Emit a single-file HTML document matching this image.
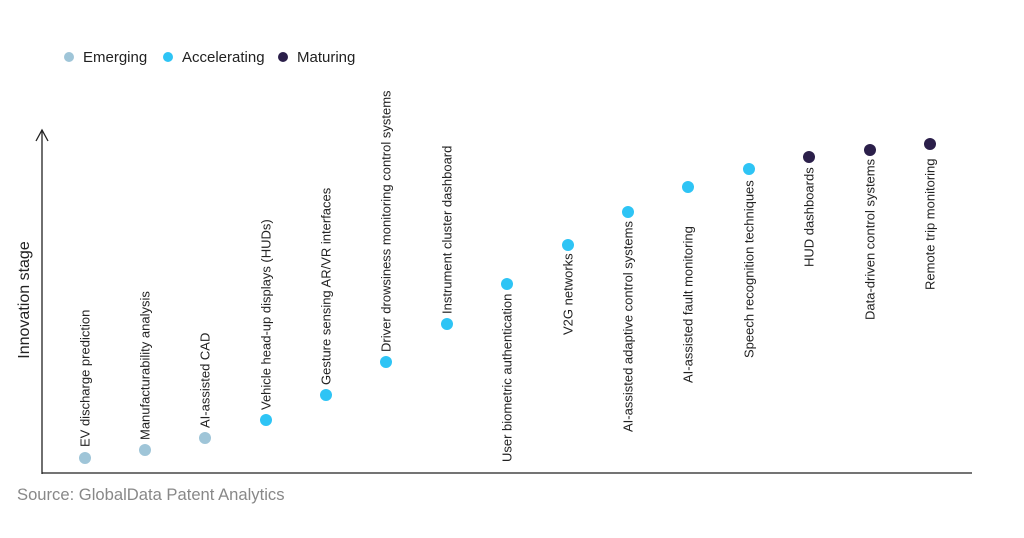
<!DOCTYPE html>
<html><head><meta charset="utf-8"><style>
body{margin:0;background:#fff;}
svg{display:block;font-family:"Liberation Sans",Arial,sans-serif;}
</style></head><body>
<svg width="1024" height="538" viewBox="0 0 1024 538">
<g font-size="15" fill="#222">
<circle cx="69" cy="57" r="5" fill="#9fc5d8"/><text x="83" y="62">Emerging</text>
<circle cx="168" cy="57" r="5" fill="#2ec4f5"/><text x="182" y="62">Accelerating</text>
<circle cx="283" cy="57" r="5" fill="#2b1f4a"/><text x="297" y="62">Maturing</text>
</g>
<line x1="42" y1="130" x2="42" y2="474" stroke="#222" stroke-width="1.3"/>
<polyline points="36,141 42,130 48,141" fill="none" stroke="#222" stroke-width="1.3"/>
<line x1="42" y1="473" x2="972" y2="473" stroke="#222" stroke-width="1.3"/>
<text transform="translate(29,300) rotate(-90)" text-anchor="middle" font-size="16" fill="#222">Innovation stage</text>
<text x="17" y="500" font-size="16.6" fill="#888">Source: GlobalData Patent Analytics</text>
<g font-size="13" fill="#222">
<circle cx="85" cy="458" r="6" fill="#9fc5d8"/><text transform="translate(89.5,447) rotate(-90)">EV discharge prediction</text>
<circle cx="145" cy="450" r="6" fill="#9fc5d8"/><text transform="translate(149.5,440) rotate(-90)">Manufacturability analysis</text>
<circle cx="205" cy="438" r="6" fill="#9fc5d8"/><text transform="translate(209.5,428) rotate(-90)">AI-assisted CAD</text>
<circle cx="266" cy="420" r="6" fill="#2ec4f5"/><text transform="translate(270.5,410) rotate(-90)">Vehicle head-up displays (HUDs)</text>
<circle cx="326" cy="395" r="6" fill="#2ec4f5"/><text transform="translate(330.5,385) rotate(-90)">Gesture sensing AR/VR interfaces</text>
<circle cx="386" cy="362" r="6" fill="#2ec4f5"/><text transform="translate(390.5,352) rotate(-90)">Driver drowsiness monitoring control systems</text>
<circle cx="447" cy="324" r="6" fill="#2ec4f5"/><text transform="translate(451.5,314) rotate(-90)">Instrument cluster dashboard</text>
<circle cx="507" cy="284" r="6" fill="#2ec4f5"/><text transform="translate(511.5,462) rotate(-90)">User biometric authentication</text>
<circle cx="568" cy="245" r="6" fill="#2ec4f5"/><text transform="translate(572.5,335) rotate(-90)">V2G networks</text>
<circle cx="628" cy="212" r="6" fill="#2ec4f5"/><text transform="translate(632.5,432) rotate(-90)">AI-assisted adaptive control systems</text>
<circle cx="688" cy="187" r="6" fill="#2ec4f5"/><text transform="translate(692.5,383) rotate(-90)">AI-assisted fault monitoring</text>
<circle cx="749" cy="169" r="6" fill="#2ec4f5"/><text transform="translate(753.5,358) rotate(-90)">Speech recognition techniques</text>
<circle cx="809" cy="157" r="6" fill="#2b1f4a"/><text transform="translate(813.5,267) rotate(-90)">HUD dashboards</text>
<circle cx="870" cy="150" r="6" fill="#2b1f4a"/><text transform="translate(874.5,320) rotate(-90)">Data-driven control systems</text>
<circle cx="930" cy="144" r="6" fill="#2b1f4a"/><text transform="translate(934.5,290) rotate(-90)">Remote trip monitoring</text>
</g>
</svg>
</body></html>
